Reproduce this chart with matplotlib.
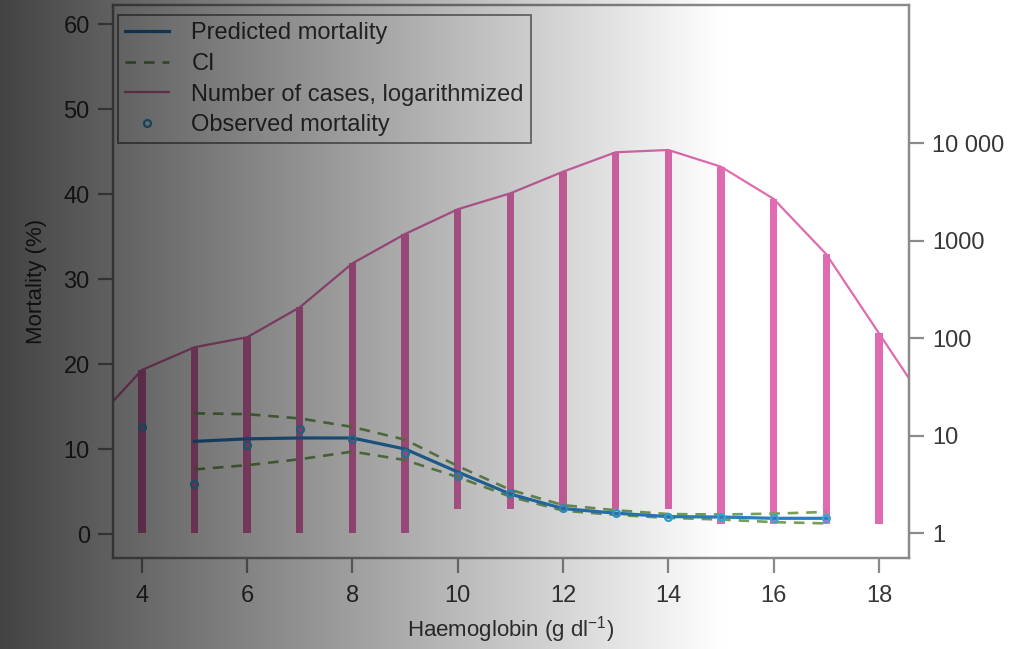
import numpy as np
import matplotlib
matplotlib.use('Agg')
import matplotlib.pyplot as plt

plt.rcParams['font.family'] = ['Liberation Sans', 'DejaVu Sans']
plt.rcParams['mathtext.fontset'] = 'custom'
plt.rcParams['mathtext.rm'] = 'Liberation Sans'
plt.rcParams['mathtext.it'] = 'Liberation Sans'

# ---- data ----
hb_cases = [3, 4, 5, 6, 7, 8, 9, 10, 11, 12, 13, 14, 15, 16, 17, 18, 19]
cases = [12.3, 47.5, 81.3, 103, 209, 590, 1180, 2115, 3085, 5140, 8130, 8580,
         5780, 2700, 731, 113, 17.5]
hb_bars = [4, 5, 6, 7, 8, 9, 10, 11, 12, 13, 14, 15, 16, 17, 18]
bar_top = [47.5, 81.3, 103, 209, 590, 1180, 2115, 3085, 5140, 8130, 8580,
           5780, 2700, 731, 113]
bar_bottom = [1, 1, 1, 1, 1, 1, 1.8, 1.8, 1.8, 1.8, 1.8, 1.25, 1.25, 1.25, 1.25]
hb_pred = [5, 6, 7, 8, 9, 10, 11, 12, 13, 14, 15, 16, 17]
pred = [10.9, 11.2, 11.3, 11.3, 10.0, 7.3, 4.7, 3.0, 2.45, 2.05, 2.0, 1.85, 1.85]
ci_upper = [14.2, 14.1, 13.6, 12.6, 11.1, 8.0, 5.2, 3.4, 2.8, 2.35, 2.3, 2.4, 2.6]
ci_lower = [7.6, 8.1, 8.8, 9.7, 8.7, 6.7, 4.4, 2.75, 2.25, 1.9, 1.7, 1.4, 1.25]
hb_obs = [4, 5, 6, 7, 8, 9, 10, 11, 12, 13, 14, 15, 16, 17]
obs = [12.6, 5.9, 10.5, 12.3, 11.2, 9.5, 6.8, 4.8, 3.1, 2.5, 2.05, 2.0, 1.9, 1.9]
left_ticks = [0, 10, 20, 30, 40, 50, 60]
right_ticks = [1, 10, 100, 1000, 10000]
right_labels = ['1', '10', '100', '1000', '10 000']
x_ticks = [4, 6, 8, 10, 12, 14, 16, 18]

PINK = '#e06bb0'
BLUE = '#2b7cc0'
GREEN = '#74a05a'
CYAN = '#35a6d8'
SPINE = '#8a8a8a'
TXT = '#383838'

W, H = 1023, 649
fig = plt.figure(figsize=(W / 100, H / 100), dpi=100, facecolor='white')
ax = fig.add_axes([112.7 / W, 1 - 558 / H, (909 - 112.7) / W, (558 - 5) / H])
ax2 = ax.twinx()
ax.set_zorder(ax2.get_zorder() + 1)
ax.patch.set_visible(False)
ax2.patch.set_facecolor('white')

# cases (log axis)
ax2.set_yscale('log')
ax2.bar(hb_bars, np.array(bar_top) - np.array(bar_bottom), bottom=bar_bottom,
        width=0.14, color=PINK, linewidth=0, zorder=2)
l_cases, = ax2.plot(hb_cases, cases, color=PINK, lw=1.6, zorder=3,
                    label='Number of cases, logarithmized')

# mortality
l_pred, = ax.plot(hb_pred, pred, color=BLUE, lw=2.3, zorder=5, label='Predicted mortality')
l_ci, = ax.plot(hb_pred, ci_upper, color=GREEN, lw=1.9, ls=(0, (4, 3)), zorder=4, label='CI')
ax.plot(hb_pred, ci_lower, color=GREEN, lw=1.9, ls=(0, (4, 3)), zorder=4)
l_obs, = ax.plot(hb_obs, obs, ls='none', marker='o', ms=5, mfc='none', mec=CYAN,
                 mew=1.6, zorder=6, label='Observed mortality')

ax.set_xlim(3.447, 18.57)
ax.set_ylim(-2.82, 62.24)
ax2.set_ylim(10 ** -0.2513, 10 ** 5.4205)

ax.set_xticks(x_ticks)
ax.set_yticks(left_ticks)
ax2.set_yticks(right_ticks)
ax2.set_yticklabels(right_labels)
ax2.yaxis.set_minor_locator(matplotlib.ticker.NullLocator())

for a in (ax, ax2):
    for s in a.spines.values():
        s.set_color(SPINE)
        s.set_linewidth(1.6)
    a.tick_params(axis='both', length=10.5, width=1.6, color=SPINE, labelcolor=TXT,
                  labelsize=17, pad=6)
ax.tick_params(axis='x', pad=9)

ax.set_ylabel('Mortality (%)', fontsize=16, color=TXT, labelpad=12)
ax.set_xlabel('Haemoglobin (g dl$^{-1}$)', fontsize=16, color=TXT, labelpad=5)

leg = ax.legend(handles=[l_pred, l_ci, l_cases, l_obs], loc='upper left',
                bbox_to_anchor=(0.007, 0.982), borderaxespad=0, fontsize=17,
                frameon=True, fancybox=False, handlelength=1.85, handletextpad=0.95,
                borderpad=0.3, labelspacing=0.37)
leg.get_frame().set_facecolor('none')
leg.get_frame().set_edgecolor('#5a5a5a')
leg.get_frame().set_linewidth(1.3)
for t in leg.get_texts():
    t.set_color(TXT)

# darkening gradient overlay (left dark -> white)
ov = fig.add_axes([0, 0, 1, 1], zorder=100)
xs = np.arange(W)
alpha = np.clip(0.74 * (1 - xs / 725.0), 0, 1)
img = np.zeros((1, W, 4))
img[0, :, 3] = alpha
ov.imshow(img, aspect='auto', extent=(0, 1, 0, 1), interpolation='bilinear')
ov.set_axis_off()

fig.savefig('out.png', dpi=100)
